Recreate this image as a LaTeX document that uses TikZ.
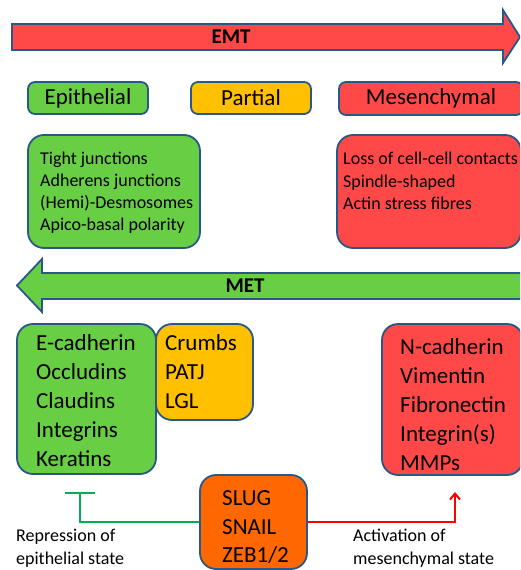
\documentclass[tikz,border=0pt]{standalone}
\usepackage{fontspec}
\setmainfont{Carlito}
\usetikzlibrary{arrows.meta}
\definecolor{edgeblue}{RGB}{40,88,136}
\definecolor{epigreen}{RGB}{104,206,68}
\definecolor{mesred}{RGB}{255,72,72}
\definecolor{partyellow}{RGB}{255,192,0}
\definecolor{tforange}{RGB}{255,104,0}
\definecolor{repgreen}{RGB}{0,176,80}
\def\fsmall{\fontsize{18}{22}\selectfont}
\def\fbig{\fontsize{23}{29}\selectfont}

\begin{document}
\begin{tikzpicture}[x=1pt,y=-1pt,
    band/.style={draw=edgeblue,line width=1.8pt,line join=miter},
    tag/.style={draw=edgeblue,line width=1.8pt,rounded corners=7pt,font=\fbig,inner sep=0pt},
    panel/.style={draw=edgeblue,line width=1.8pt,rounded corners=16pt,inner sep=0pt},
    list/.style={anchor=north west,align=left,inner sep=0pt},
    bandtext/.style={font=\fontsize{21}{25}\selectfont\bfseries}]
  \useasboundingbox (0,0) rectangle (520,570);
  \clip (0,0) rectangle (520,570);

  \draw[band,fill=mesred] (12,24) -- (503,24) -- (503,10) -- (520,37) -- (503,63) -- (503,50) -- (12,50) -- cycle;
  \node[bandtext] (emt) at (231,37) {EMT};

  \node[tag,fill=epigreen,minimum width=120pt,minimum height=32pt] (epi) at (88,98) {Epithelial};
  \node[tag,fill=partyellow,minimum width=120pt,minimum height=32pt] (part) at (251,98) {Partial};
  \node[tag,fill=mesred,minimum width=184pt,minimum height=33pt] (mes) at (431,98.5) {Mesenchymal};

  \node[panel,fill=epigreen,minimum width=172pt,minimum height=113pt] (epibox) at (114,191.5) {};
  \node[list,font=\fsmall] (epilist) at (40,152) {Tight junctions\\Adherens junctions\\(Hemi)-Desmosomes\\Apico-basal polarity};
  \node[panel,fill=mesred,minimum width=184pt,minimum height=113pt] (mesbox) at (429,191.5) {};
  \node[list,font=\fontsize{18}{22.5}\selectfont] (meslist) at (343,152) {Loss of cell-cell contacts\\Spindle-shaped\\Actin stress fibres};

  \draw[band,fill=epigreen] (530,273) -- (42,273) -- (42,259) -- (17,285.5) -- (42,312) -- (42,299) -- (530,299) -- cycle;
  \node[bandtext] (met) at (245,286) {MET};

  \node[panel,fill=epigreen,minimum width=139pt,minimum height=150pt] (epimark) at (86.5,399) {};
  \node[list,font=\fbig] (epigenes) at (36,334.5) {E-cadherin\\Occludins\\Claudins\\Integrins\\Keratins};
  \node[panel,fill=partyellow,minimum width=97pt,minimum height=96pt] (partmark) at (204.5,372) {};
  \node[list,font=\fbig] (partgenes) at (165,334.5) {Crumbs\\PATJ\\LGL};
  \node[panel,fill=mesred,minimum width=141pt,minimum height=151pt] (mesmark) at (452.5,399.5) {};
  \node[list,font=\fbig] (mesgenes) at (400,338.5) {N-cadherin\\Vimentin\\Fibronectin\\Integrin(s)\\MMPs};

  \node[panel,fill=tforange,minimum width=107pt,minimum height=94pt] (tf) at (253.5,522) {};
  \node[list,font=\fontsize{23}{28.5}\selectfont] (tfgenes) at (222,490.6) {SLUG\\SNAIL\\ZEB1/2};

  \coordinate (repress) at (80,492);
  \coordinate (activ) at (455,492);
  \draw[repgreen,line width=2.2pt,-{Bar[width=30pt,line width=2.2pt]}] (tf.west) -| (repress);
  \draw[red,line width=2.2pt,-{Straight Barb[length=6pt,width=10pt,line width=2pt]}] (tf.east) -| (activ);

  \node[list,font=\fontsize{18}{23}\selectfont] (replabel) at (16,529) {Repression of\\epithelial state};
  \node[list,font=\fontsize{18}{23}\selectfont] (actlabel) at (353,529) {Activation of\\mesenchymal state};
\end{tikzpicture}
\end{document}
